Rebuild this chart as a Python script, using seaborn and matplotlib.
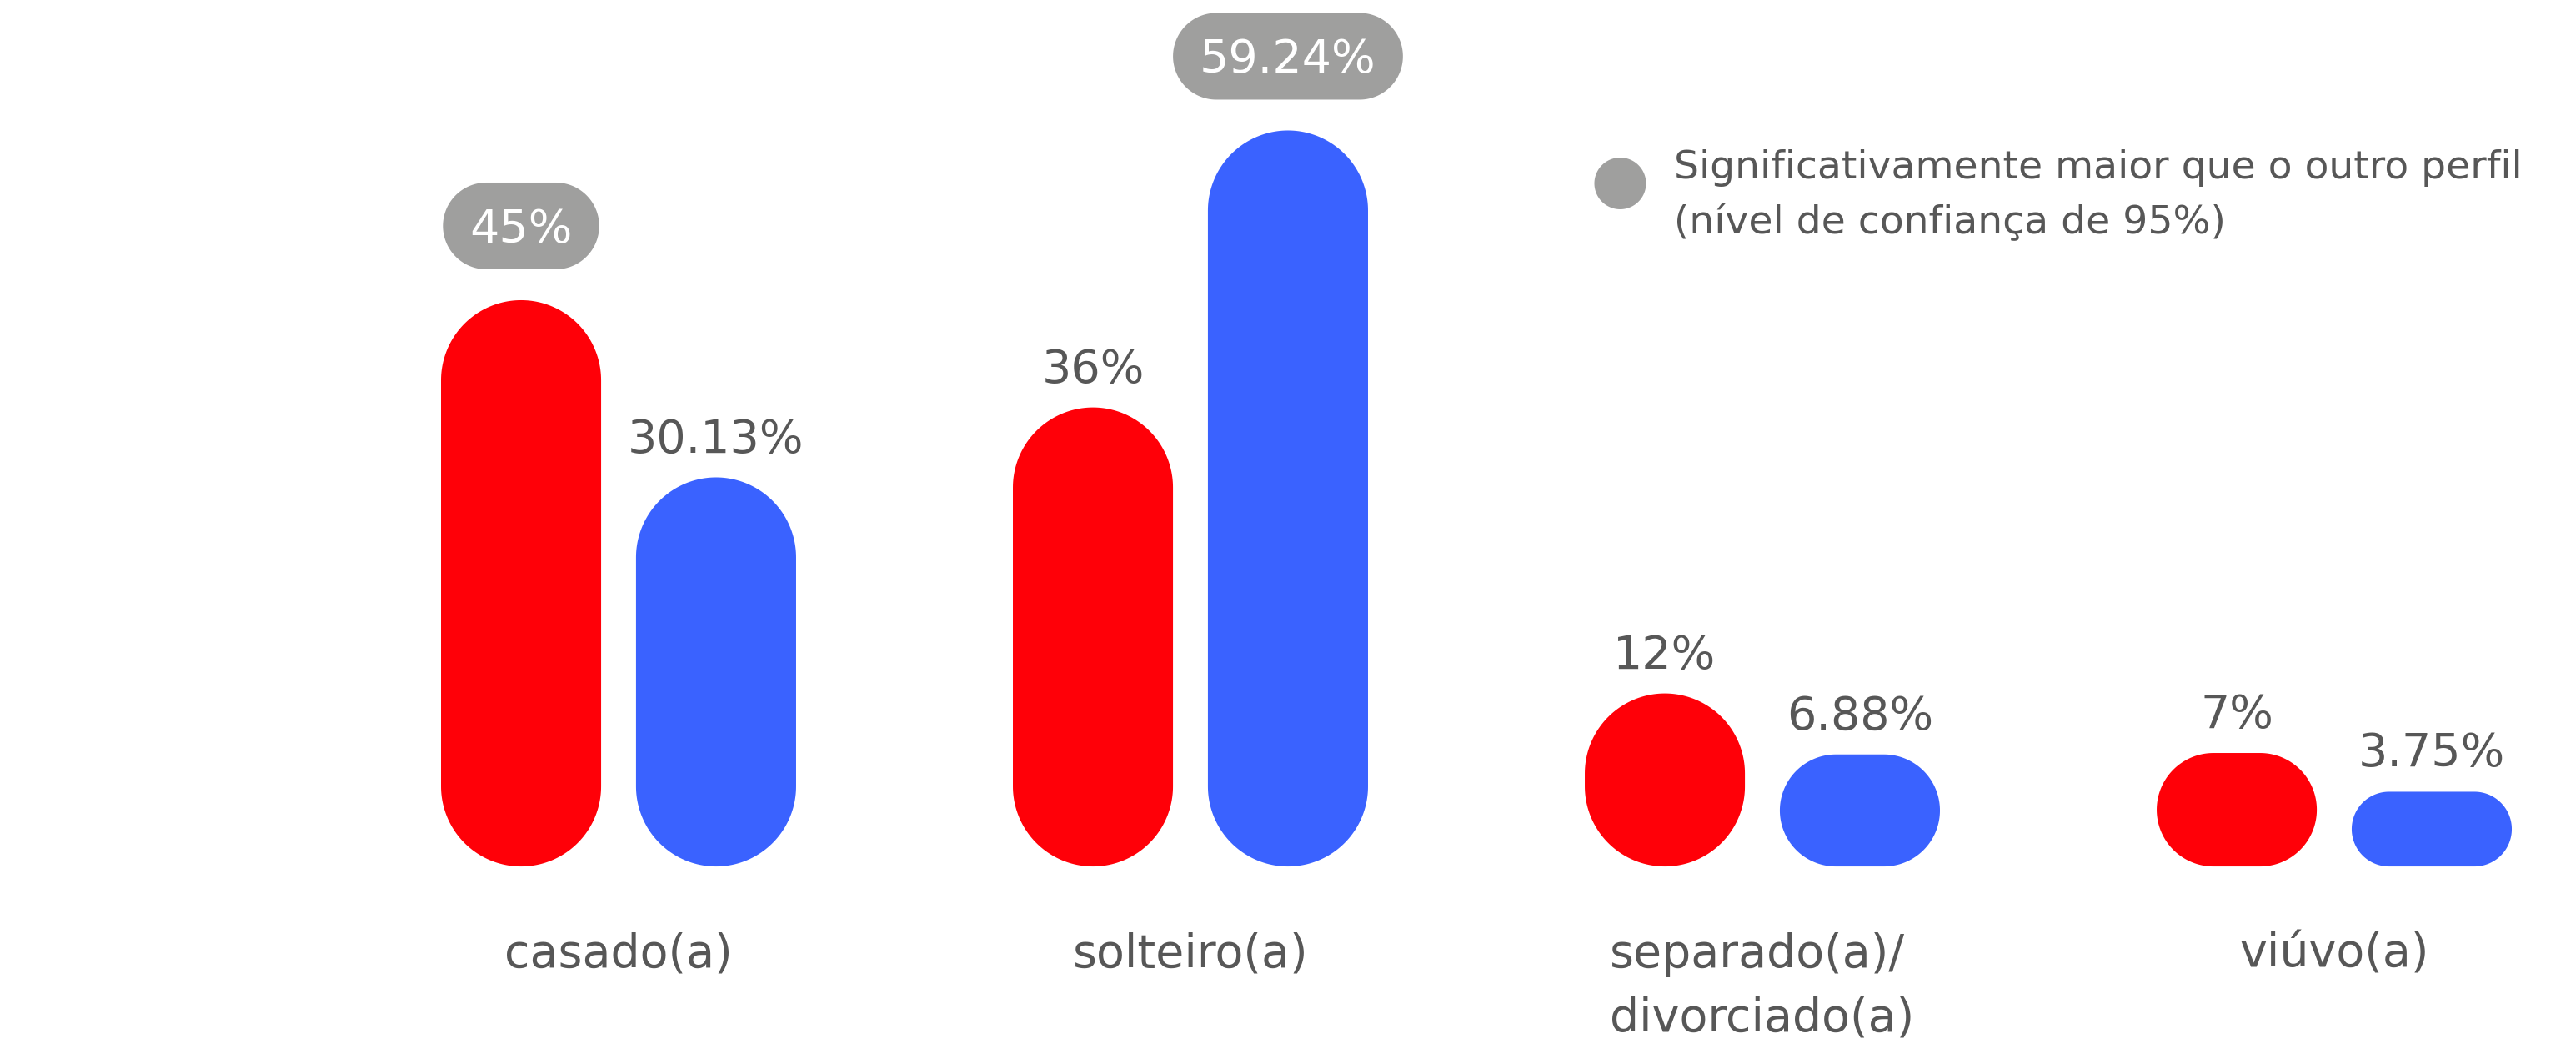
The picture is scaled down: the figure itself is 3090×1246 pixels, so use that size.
import numpy as np
import pandas as pd
import matplotlib
matplotlib.use("Agg")
import matplotlib.pyplot as plt
import seaborn as sns
from matplotlib.patches import Polygon
from matplotlib.path import Path
from matplotlib.transforms import IdentityTransform
from matplotlib.lines import Line2D

# ---------------- data ----------------
categories = ["casado(a)", "solteiro(a)", "separado(a)/\ndivorciado(a)", "viúvo(a)"]
series_names = ["Perfil A", "Perfil B"]
values_a = [45, 36, 12, 7]
values_b = [30.13, 59.24, 6.88, 3.75]
labels_a = ["45%", "36%", "12%", "7%"]
labels_b = ["30.13%", "59.24%", "6.88%", "3.75%"]
significant_a = [True, False, False, False]
significant_b = [False, True, False, False]
legend_label = "Significativamente maior que o outro perfil\n(nível de confiança de 95%)"

# ---------------- style ----------------
RED = "#FF0008"
BLUE = "#3A62FF"
PILL_GRAY = "#9F9F9E"
TEXT_GRAY = "#575757"
DPI = 100
W_PX, H_PX = 3090, 1246


def rounded_poly(x, y, w, h, r, color, z, n=48):
    """Rounded rectangle with true circular corners, in pixel coordinates."""
    r = min(r, w / 2.0, h / 2.0)
    pts = []
    centers = [(x + w - r, y + h - r, 0), (x + r, y + h - r, 90),
               (x + r, y + r, 180), (x + w - r, y + r, 270)]
    for cx, cy, a0 in centers:
        ang = np.radians(np.linspace(a0, a0 + 90, n))
        pts.append(np.column_stack([cx + r * np.cos(ang), cy + r * np.sin(ang)]))
    return Polygon(np.vstack(pts), closed=True, transform=IdentityTransform(),
                   facecolor=color, edgecolor="none", zorder=z)


sns.set_theme(style="white")
plt.rcParams["font.family"] = ["DejaVu Sans"]

df = pd.DataFrame({
    "categoria": categories * 2,
    "perfil": [series_names[0]] * len(categories) + [series_names[1]] * len(categories),
    "valor": values_a + values_b,
})

fig = plt.figure(figsize=(W_PX / DPI, H_PX / DPI), dpi=DPI)
fig.patch.set_facecolor("white")
ax = fig.add_axes([0, 0, 1, 1])

sns.barplot(data=df, x="categoria", y="valor", hue="perfil", order=categories,
            hue_order=series_names, palette=[RED, BLUE], saturation=1,
            width=0.682, gap=0.179, legend=False, ax=ax)

ax.set_xlim(-1.0816, 3.4227)
ax.set_ylim(-17.0, 70.19)
ax.axis("off")

FLOOR = -2.52  # visual floor of the rounded bars (data units)

fig.canvas.draw()
renderer = fig.canvas.get_renderer()

labels_all = [labels_a, labels_b]
sig_all = [significant_a, significant_b]

for hi, container in enumerate(ax.containers):
    for ci, rect in enumerate(container.patches):
        x0 = rect.get_x()
        w = rect.get_width()
        h = rect.get_height()
        p0 = ax.transData.transform((x0, FLOOR))
        p1 = ax.transData.transform((x0 + w, h))
        pw, ph = p1[0] - p0[0], p1[1] - p0[1]
        ax.add_patch(rounded_poly(p0[0], p0[1], pw, ph, min(pw, ph) / 2.0,
                                  rect.get_facecolor(), 2))
        rect.set_visible(False)

        xc = x0 + w / 2
        lab = labels_all[hi][ci]
        if sig_all[hi][ci]:
            t = ax.annotate(lab, xy=(xc, h), xytext=(0, 69 * 72 / DPI),
                            textcoords="offset points", ha="center",
                            va="baseline", fontsize=40, color="white", zorder=10)
            bb = t.get_window_extent(renderer)
            cy = p1[1] + 37 + 52
            padx = 32
            bw = bb.width + 2 * padx
            bh = 104
            bx = (bb.x0 + bb.x1) / 2 - bw / 2
            ax.add_patch(rounded_poly(bx, cy - bh / 2, bw, bh, bh / 2, PILL_GRAY, 3))
        else:
            ax.annotate(lab, xy=(xc, h), xytext=(0, 30 * 72 / DPI),
                        textcoords="offset points", ha="center", va="baseline",
                        fontsize=40, color=TEXT_GRAY, zorder=10)

# category labels (first-line baseline fixed; extra lines go below)
LINE_STEP = 77 / 14.29
for i, cat in enumerate(categories):
    nlines = cat.count("\n") + 1
    ax.text(i, -10.98 - (nlines - 1) * LINE_STEP, cat, ha="center", va="baseline",
            multialignment="left", fontsize=40, color=TEXT_GRAY, linespacing=1.557)

# legend: circle marker raised slightly above the centre of the two-line label
lift = 0.5
theta = np.linspace(0, 2 * np.pi, 96)
circle_verts = np.column_stack([np.cos(theta), np.sin(theta) + lift])
circle_marker = Path(circle_verts, closed=True)
marker_pts = 31 * 2 * (1 + lift) * 72 / DPI
handle = Line2D([], [], marker=circle_marker, linestyle="", markersize=marker_pts,
                markerfacecolor=PILL_GRAY, markeredgecolor="none")
leg = ax.legend(handles=[handle], labels=[legend_label], loc="upper left",
                bbox_to_anchor=(1912 / W_PX, 1 - 179 / H_PX),
                bbox_transform=fig.transFigure, frameon=False, fontsize=34,
                handlelength=1.33, handletextpad=0.70, borderpad=0,
                borderaxespad=0, labelcolor=TEXT_GRAY)
for t in leg.get_texts():
    t.set_linespacing(1.53)

fig.savefig("out.png", dpi=DPI, facecolor="white")
